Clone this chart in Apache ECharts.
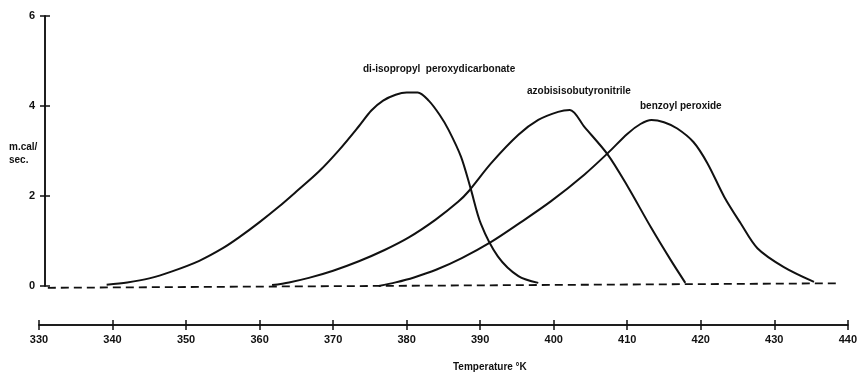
<!DOCTYPE html>
<html>
<head>
<meta charset="utf-8">
<script src="https://cdn.jsdelivr.net/npm/echarts@6/dist/echarts.min.js"></script>
<style>
  html, body { margin: 0; padding: 0; background: #fff; }
  #chart { width: 860px; height: 377px; }
</style>
</head>
<body>
<div id="chart"></div>
<script>
// temperature (K) and heat output (m.cal/sec)
const diIsoTemp = [339.2, 342, 345, 348, 351.8, 355, 357.2, 360, 362.6, 365, 368.1, 370.8, 373.5, 375.2, 376.8, 378.5, 380, 381.5, 383, 384.5, 385.7, 387.4, 388.7, 390.1, 392.4, 395.2, 397.9];
const diIsoHeat = [0.03, 0.08, 0.17, 0.32, 0.56, 0.84, 1.08, 1.42, 1.76, 2.1, 2.55, 3.02, 3.55, 3.9, 4.12, 4.25, 4.3, 4.3, 4.12, 3.8, 3.47, 2.87, 2.17, 1.38, 0.66, 0.22, 0.07];

const azoTemp = [361.7, 364, 366.7, 370, 373.5, 377, 380.3, 383.9, 387, 388.4, 391.5, 395.2, 397.9, 400.6, 402.2, 404.2, 407.4, 410.1, 413.2, 415.9, 417.9];
const azoHeat = [0.02, 0.08, 0.18, 0.34, 0.55, 0.8, 1.08, 1.47, 1.87, 2.1, 2.73, 3.36, 3.69, 3.87, 3.91, 3.53, 2.91, 2.2, 1.31, 0.58, 0.07];

const benzTemp = [376.2, 378.5, 381, 384, 387.5, 391.5, 395.2, 399.6, 404.2, 407.4, 410, 411.8, 413.3, 415, 416.8, 419, 420.9, 423.2, 425.4, 427.7, 431.3, 435.4];
const benzHeat = [0.0, 0.08, 0.19, 0.36, 0.62, 0.98, 1.38, 1.88, 2.48, 2.96, 3.38, 3.6, 3.69, 3.64, 3.5, 3.2, 2.73, 1.98, 1.4, 0.84, 0.42, 0.09];

const baseTemp = [331.2, 439];
const baseHeat = [-0.04, 0.06];

const xTicks = [330, 340, 350, 360, 370, 380, 390, 400, 410, 420, 430, 440];
const yTicks = [0, 2, 4, 6];

const pairs = (xs, ys) => xs.map((x, i) => [x, ys[i]]);

const ink = "#111";
const font = "Liberation Sans";

const chart = echarts.init(document.getElementById("chart"));

const xBase = {
  type: "value",
  position: "bottom",
  min: xTicks[0],
  max: xTicks[xTicks.length - 1],
  interval: 10,
  offset: 39,
  splitLine: { show: false },
  axisLine: { onZero: false, lineStyle: { color: ink, width: 1.5 } },
};
const yBase = {
  type: "value",
  position: "left",
  min: yTicks[0],
  max: yTicks[yTicks.length - 1],
  interval: 2,
  offset: -6,
  splitLine: { show: false },
  axisLine: { show: true, onZero: false, lineStyle: { color: ink, width: 1.5 } },
};

const curve = (name, data) => ({
  name: name,
  type: "line",
  data: data,
  smooth: 0.3,
  symbol: "none",
  lineStyle: { color: ink, width: 2 },
  z: 3,
});

const option = {
  backgroundColor: "#fff",
  animation: false,
  grid: { left: 39, right: 9, top: 16, bottom: 91 },
  xAxis: [
    Object.assign({}, xBase, {
      axisTick: { show: true, length: 5, lineStyle: { color: ink, width: 1.5 } },
      axisLabel: { color: ink, fontFamily: font, fontWeight: "bold", fontSize: 11, margin: 9 },
    }),
    Object.assign({}, xBase, {
      axisTick: { show: true, inside: true, length: 5, lineStyle: { color: ink, width: 1.5 } },
      axisLabel: { show: false },
    }),
  ],
  yAxis: [
    Object.assign({}, yBase, {
      axisTick: { show: true, length: 5, lineStyle: { color: ink, width: 1.5 } },
      axisLabel: { color: ink, fontFamily: font, fontWeight: "bold", fontSize: 11, margin: 10 },
    }),
    Object.assign({}, yBase, {
      axisTick: { show: true, inside: true, length: 5, lineStyle: { color: ink, width: 1.5 } },
      axisLabel: { show: false },
    }),
  ],
  series: [
    {
      name: "baseline",
      type: "line",
      data: pairs(baseTemp, baseHeat),
      symbol: "none",
      clip: false,
      lineStyle: { color: ink, width: 1.8, type: [8, 5] },
      z: 2,
    },
    curve("di-isopropyl peroxydicarbonate", pairs(diIsoTemp, diIsoHeat)),
    curve("azobisisobutyronitrile", pairs(azoTemp, azoHeat)),
    curve("benzoyl peroxide", pairs(benzTemp, benzHeat)),
  ],
  graphic: [
    {
      type: "text", left: 363, top: 64,
      style: { text: "di-isopropyl  peroxydicarbonate", fill: ink, font: "bold 10px " + font },
    },
    {
      type: "text", left: 527, top: 86,
      style: { text: "azobisisobutyronitrile", fill: ink, font: "bold 10px " + font },
    },
    {
      type: "text", left: 640, top: 101,
      style: { text: "benzoyl peroxide", fill: ink, font: "bold 10px " + font },
    },
    {
      type: "text", left: 9, top: 141,
      style: { text: "m.cal/\nsec.", fill: ink, font: "bold 10px " + font, lineHeight: 13 },
    },
    {
      type: "text", left: 453, top: 362,
      style: { text: "Temperature °K", fill: ink, font: "bold 10px " + font },
    },
  ],
};

chart.setOption(option);
</script>
</body>
</html>
